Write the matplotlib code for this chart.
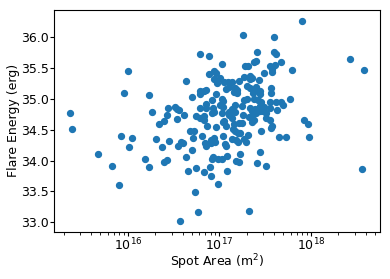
import matplotlib
matplotlib.use("Agg")
import matplotlib.pyplot as plt
import numpy as np

# log10 of spot area (m^2)
log_spot_area = [
    15.37, 15.39, 15.67, 15.83, 15.90, 15.93, 16.04, 16.01, 16.00, 15.96,
    16.23, 16.26, 16.19, 16.23, 16.34, 16.40, 16.43, 16.31, 16.37, 16.39,
    16.43, 16.45, 16.44, 16.51, 16.54, 16.54, 16.61, 16.56, 16.55, 16.58,
    16.60, 16.63, 16.70, 16.57, 16.77, 17.32, 16.73, 16.99, 16.91, 16.83,
    16.66, 16.74, 16.90, 17.08, 16.63, 16.70, 16.92, 16.93, 16.99, 17.03,
    17.08, 17.18, 17.22, 17.23, 17.41, 17.51, 17.44, 16.68, 16.72, 16.71,
    16.81, 16.84, 16.85, 16.91, 16.94, 16.95, 16.91, 17.04, 17.07, 17.06,
    17.14, 17.18, 17.20, 17.23, 17.27, 17.29, 17.31, 17.46, 17.51, 17.55,
    17.65, 17.73, 16.75, 16.79, 16.83, 16.83, 16.86, 16.92, 16.94, 16.96,
    17.05, 17.03, 17.10, 17.10, 17.14, 17.16, 17.15, 17.17, 17.20, 17.22,
    17.21, 17.25, 17.07, 17.04, 17.17, 17.26, 17.32, 17.36, 17.37, 17.40,
    17.44, 17.48, 17.51, 17.36, 17.38, 17.56, 17.57, 17.63, 17.55, 17.93,
    17.97, 17.98, 18.56, 17.90, 17.60, 17.26, 16.79, 16.89, 17.41, 17.60,
    17.62, 17.03, 17.28, 17.31, 17.38, 17.40, 17.55, 17.61, 17.67, 17.79,
    17.58, 17.58, 17.49, 18.43, 18.58, 16.89, 16.94, 16.96, 16.94, 17.01,
    16.97, 17.05, 17.09, 17.14, 17.21, 17.27, 17.33, 17.36, 17.34, 17.43,
    17.07, 17.11, 17.17, 17.19, 17.16, 17.19, 17.30, 17.33, 17.40, 17.41,
    17.37, 17.44, 17.44, 17.56, 17.56, 16.79, 16.83, 16.85, 16.79, 16.96,
    16.92, 17.03, 17.04, 17.01, 17.04, 16.85, 16.79, 16.85, 16.93, 17.17,
    17.25, 17.27, 17.30, 17.38, 17.42, 17.46, 17.46, 17.55, 17.62, 17.67,
    17.69, 17.77, 17.34, 17.39, 17.44, 17.49, 17.14,
]

# log10 of flare energy (erg)
flare_energy = [
    34.77, 34.51, 34.10, 33.91, 33.60, 34.39, 34.36, 34.22, 35.45, 35.09,
    35.06, 34.78, 34.02, 33.89, 34.59, 34.64, 34.73, 34.35, 34.22, 33.97,
    34.01, 34.31, 34.85, 34.86, 34.83, 34.67, 34.73, 34.81, 34.23, 34.30,
    34.28, 35.28, 35.02, 33.02, 33.17, 33.18, 33.49, 33.62, 33.75, 33.81,
    33.83, 33.88, 33.89, 33.83, 34.06, 34.17, 34.02, 34.06, 34.02, 34.02,
    34.07, 33.99, 33.97, 34.10, 33.96, 33.91, 34.14, 34.48, 34.48, 34.36,
    34.39, 34.28, 34.23, 34.33, 34.36, 34.30, 34.28, 34.39, 34.23, 34.26,
    34.35, 34.33, 34.30, 34.44, 34.35, 34.30, 34.41, 34.48, 34.68, 34.65,
    34.38, 34.38, 34.72, 34.68, 34.65, 34.72, 34.56, 34.76, 34.79, 34.54,
    34.64, 34.77, 34.78, 34.73, 34.69, 34.59, 34.51, 34.48, 34.44, 34.44,
    34.60, 34.60, 34.56, 34.62, 34.78, 34.73, 34.70, 34.80, 34.75, 34.77,
    34.80, 34.80, 34.77, 34.62, 34.65, 34.52, 34.56, 34.81, 34.85, 34.65,
    34.59, 34.38, 33.86, 36.25, 35.99, 36.03, 35.72, 35.69, 35.75, 35.75,
    35.72, 35.56, 35.53, 35.53, 35.59, 35.61, 35.53, 35.54, 35.59, 35.46,
    35.43, 35.48, 35.41, 35.64, 35.46, 35.40, 35.45, 35.41, 35.32, 35.33,
    35.25, 35.27, 35.26, 35.27, 35.28, 35.35, 35.37, 35.34, 35.31, 35.30,
    35.15, 35.18, 35.17, 35.14, 35.11, 35.09, 35.20, 35.17, 35.18, 35.14,
    35.09, 35.12, 35.07, 35.17, 35.09, 35.12, 35.12, 35.14, 35.07, 35.07,
    34.98, 34.99, 34.96, 34.90, 34.86, 34.92, 34.85, 34.84, 34.84, 34.90,
    34.88, 34.98, 35.00, 34.99, 34.98, 34.94, 34.91, 34.94, 34.95, 34.94,
    34.90, 35.00, 34.85, 34.83, 34.88, 34.86, 34.83,
]

x_label = "Spot Area (m$^2$)"
y_label = "Flare Energy (erg)"

plt.rcParams["font.size"] = 9
plt.rcParams["xtick.major.size"] = 3
plt.rcParams["ytick.major.size"] = 3
plt.rcParams["xtick.minor.size"] = 1.8
plt.rcParams["xtick.major.pad"] = 0.8
plt.rcParams["ytick.major.pad"] = 0.8

spot_area = np.power(10.0, np.array(log_spot_area))
energy = np.array(flare_energy)

fig = plt.figure(figsize=(3.9, 2.79), dpi=100)
ax = fig.add_axes([0.139, 0.1695, 0.835, 0.7945])
ax.scatter(spot_area, energy, s=18, color="#1f77b4")
ax.set_xscale("log")
ax.set_xlim(10**15.195, 10**18.754)
ax.set_ylim(32.85, 36.43)
ax.set_yticks([33.0, 33.5, 34.0, 34.5, 35.0, 35.5, 36.0])
ax.set_xlabel(x_label, labelpad=-0.5)
ax.set_ylabel(y_label, labelpad=1)
fig.savefig("out.png", dpi=100)
